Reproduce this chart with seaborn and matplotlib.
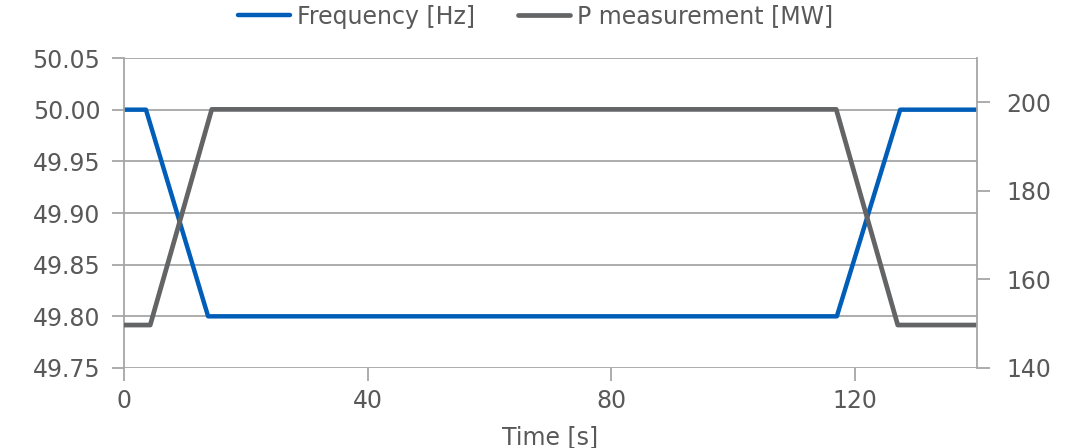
import matplotlib
matplotlib.use("Agg")
import matplotlib.pyplot as plt
import seaborn as sns
import pandas as pd
from matplotlib.lines import Line2D

# Data
time_freq = [0, 3.6, 13.8, 117.0, 127.4, 140]
freq_hz = [50.0, 50.0, 49.8, 49.8, 50.0, 50.0]
time_p = [0, 4.3, 14.4, 116.9, 127.0, 140]
p_mw = [149.7, 149.7, 198.4, 198.4, 149.7, 149.7]

x_ticks = [0, 40, 80, 120]
left_ticks = [49.75, 49.80, 49.85, 49.90, 49.95, 50.00, 50.05]
right_ticks = [140, 160, 180, 200]

blue = "#005EB8"
grey = "#636466"
text_col = "#595959"
grid_col = "#A6A6A6"

sns.set_style("white")
plt.rcParams['font.family'] = ['DejaVu Sans']
plt.rcParams['font.size'] = 16

df_f = pd.DataFrame({"t": time_freq, "f": freq_hz})
df_p = pd.DataFrame({"t": time_p, "p": p_mw})

fig = plt.figure(figsize=(10.71, 4.48), dpi=100)
ax = fig.add_axes([0.1158, 0.1786, 0.9122 - 0.1158, 0.8705 - 0.1786])
ax2 = ax.twinx()

# power (secondary axis) is drawn over the frequency line, as in the reference
sns.lineplot(data=df_f, x="t", y="f", ax=ax, color=blue, linewidth=3.2)
sns.lineplot(data=df_p, x="t", y="p", ax=ax2, color=grey, linewidth=3.4)

ax.set_xlim(0, 140)
ax.set_ylim(49.75, 50.05)
ax2.set_ylim(140, 210)
ax.set_xticks(x_ticks)
ax.set_yticks(left_ticks)
ax.set_yticklabels([f"{v:.2f}" for v in left_ticks])
ax2.set_yticks(right_ticks)

ax.yaxis.grid(True, color=grid_col, linewidth=1.3)
ax.xaxis.grid(False)
ax2.grid(False)
ax.set_axisbelow(True)

for a in (ax, ax2):
    for side in ("top", "left", "right", "bottom"):
        a.spines[side].set_visible(False)
ax.spines["left"].set_visible(True)
ax.spines["left"].set_color(grid_col)
ax.spines["left"].set_linewidth(1.3)
ax2.spines["right"].set_visible(True)
ax2.spines["right"].set_color(grid_col)
ax2.spines["right"].set_linewidth(1.3)

ax.tick_params(axis="both", colors=grid_col, labelcolor=text_col, labelsize=17,
               length=9, width=1.3, direction="out", left=True, bottom=True)
ax2.tick_params(axis="y", colors=grid_col, labelcolor=text_col, labelsize=17,
                length=9, width=1.3, direction="out", right=True, pad=12)
ax.tick_params(axis="y", pad=8)
ax.tick_params(axis="x", pad=6)

ax.set_xlabel("Time [s]", color=text_col, fontsize=17, labelpad=9)
ax.set_ylabel("")
ax2.set_ylabel("")

handles = [Line2D([0], [0], color=blue, linewidth=3.2),
           Line2D([0], [0], color=grey, linewidth=3.4)]
fig.legend(handles, ["Frequency [Hz]", "P measurement [MW]"], loc="center",
           bbox_to_anchor=(0.5, 0.963), ncol=2, frameon=False, fontsize=17,
           labelcolor=text_col, handlelength=2.2, columnspacing=1.8,
           handletextpad=0.3)

fig.savefig("out.png", dpi=100)
